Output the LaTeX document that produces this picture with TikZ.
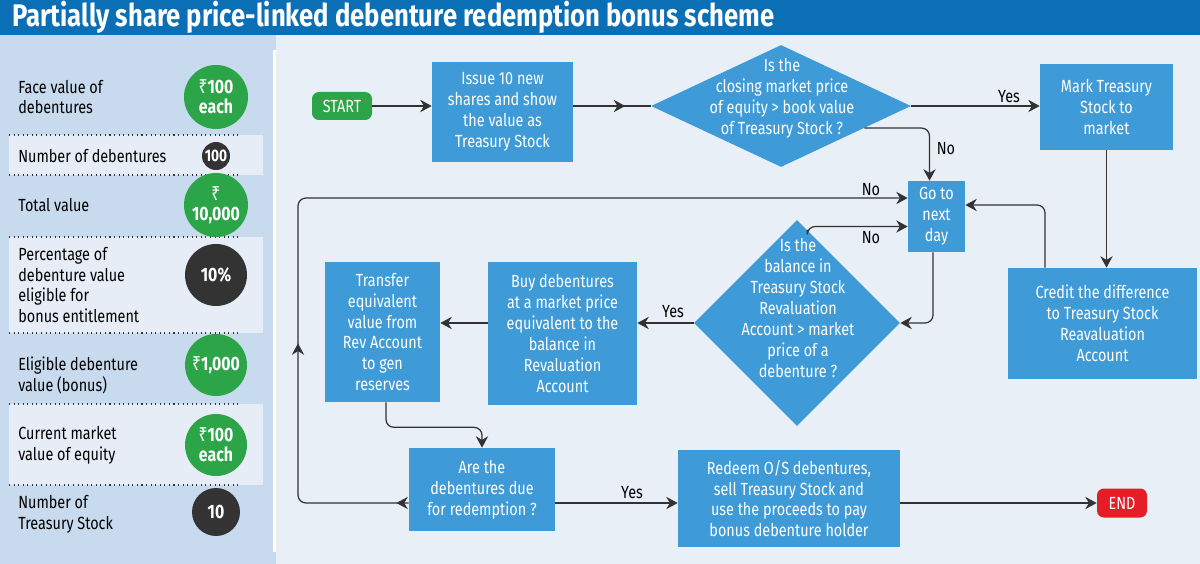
\documentclass[tikz,border=0pt]{standalone}
\usepackage{fontspec}
\setmainfont{Fira Sans}[FakeStretch=0.82]
\newfontfamily\rupeefont{Noto Sans}[FakeStretch=0.82]
\usetikzlibrary{shapes.geometric,arrows.meta,decorations.markings,calc}

\newlength\pxu
\setlength{\pxu}{0.02cm}
\newcommand{\boxfont}{\fontsize{10}{11.9}\selectfont}
\newcommand{\rupeesign}{{\rupeefont\bfseries ₹}}

\definecolor{titleblue}{RGB}{11,111,181}
\definecolor{panelblue}{RGB}{200,218,238}
\definecolor{bandblue}{RGB}{230,237,247}
\definecolor{flowbg}{RGB}{233,239,247}
\definecolor{boxblue}{RGB}{62,155,215}
\definecolor{greenc}{RGB}{44,165,73}
\definecolor{darkc}{RGB}{51,51,51}
\definecolor{endred}{RGB}{228,30,38}
\definecolor{linecol}{RGB}{50,50,50}

\begin{document}
\begin{tikzpicture}[x=0.02cm, y=-0.02cm,
    >={Stealth[length=6.5pt,width=7pt]},
    conn/.style={draw=linecol, line width=0.7pt, rounded corners=4.5pt},
    dims/.style 2 args={minimum width=#1\pxu, minimum height=#2\pxu},
    process/.style={rectangle, fill=boxblue, text=white, align=center, inner sep=0pt, font=\boxfont},
    decision/.style={diamond, fill=boxblue, inner sep=0pt},
    dtext/.style={text=white, align=center, font=\boxfont},
    pill/.style={rectangle, rounded corners=3.9pt, text=white, inner sep=0pt, font=\boxfont},
    lbl/.style={text=black, font=\boxfont},
    rowlbl/.style={anchor=west, align=left, inner sep=0pt, font=\boxfont},
    numc/.style={circle, inner sep=0pt, text=white, align=center, font=\bfseries\fontsize{11}{11.5}\selectfont},
    midtip/.style={postaction={decorate}, decoration={markings, mark=at position #1 with {\arrow{>}}}}]
    \useasboundingbox (0,0) rectangle (1200,564);
    % backgrounds
    \fill[flowbg] (0,0) rectangle (1200,564);
    \fill[panelblue] (0,35) rectangle (276,564);
    \fill[white] (273,50) rectangle (276,552);
    \fill[titleblue] (0,0) rectangle (1200,35);
    \node[anchor=west, text=white, inner sep=0pt, font=\bfseries\fontsize{17.8}{19}\selectfont] (title) at (12,17) {Partially share price-linked debenture redemption bonus scheme};
    % left panel
    \foreach \a/\b in {135/175, 237/333, 404/485}
        \fill[bandblue] (9,\a) rectangle (263,\b);
    \foreach \y in {135,175,237,333,404,485}
        \draw[darkc, dotted, line width=0.6pt] (9,\y) -- (240,\y);
    \node[rowlbl] at (18,97) (r1) {Face value of\\debentures};
    \node[rowlbl] at (18,156) (r2) {Number of debentures};
    \node[rowlbl] at (18,205) (r3) {Total value};
    \node[rowlbl] at (18,285) (r4) {Percentage of\\debenture value\\eligible for\\bonus entitlement};
    \node[rowlbl] at (18,375) (r5) {Eligible debenture\\value (bonus)};
    \node[rowlbl] at (18,445) (r6) {Current market\\value of equity};
    \node[rowlbl] at (18,514) (r7) {Number of\\Treasury Stock};
    \node[numc, fill=greenc, minimum size=64\pxu] at (216,97) (c1) {\rupeesign100\\each};
    \node[numc, fill=darkc, minimum size=28\pxu, font=\bfseries\fontsize{9.5}{10}\selectfont] at (216,156) (c2) {100};
    \node[numc, fill=greenc, minimum size=64\pxu] at (216,205) (c3) {\rupeesign\\10,000};
    \node[numc, fill=darkc, minimum size=62\pxu] at (216,275) (c4) {10\%};
    \node[numc, fill=greenc, minimum size=62\pxu] at (216,365) (c5) {\rupeesign1,000};
    \node[numc, fill=greenc, minimum size=62\pxu] at (216,445) (c6) {\rupeesign100\\each};
    \node[numc, fill=darkc, minimum size=48\pxu] at (216,512) (c7) {10};
    % flow chart
    \node[pill, fill=greenc, dims={60}{28}] at (342,106) (start) {START};
    \node[process, dims={141}{100}] at (502.5,112) (issue) {Issue 10 new\\shares and show\\the value as\\Treasury Stock};
    \node[decision, dims={260}{122}] at (781,106) (d1) {};
    \node[dtext] at (782,98) (d1t) {Is the\\closing market price\\of equity > book value\\of Treasury Stock ?};
    \node[process, dims={133}{86}] at (1106.5,107) (mark) {Mark Treasury\\Stock to\\market};
    \node[process, dims={57}{71}] at (936.5,216.5) (go) {Go to\\next\\day};
    \node[process, dims={189}{111}] at (1102.5,323.5) (credit) {Credit the difference\\to Treasury Stock\\Reavaluation\\Account};
    \node[decision, dims={206}{206}] at (797,323) (d2) {};
    \node[dtext] at (798,308) (d2t) {Is the\\balance in\\Treasury Stock\\Revaluation\\Account > market\\price of a\\debenture ?};
    \node[process, dims={149}{143}] at (562.5,333.5) (buy) {Buy debentures\\at a market price\\equivalent to the\\balance in\\Revaluation\\Account};
    \node[process, dims={115}{140}] at (382.5,332) (transfer) {Transfer\\equivalent\\value from\\Rev Account\\to gen\\reserves};
    \node[process, dims={146}{83}] at (482,489.5) (due) {Are the\\debentures due\\for redemption ?};
    \node[process, dims={222}{97}] at (789,498.5) (redeem) {Redeem O/S debentures,\\sell Treasury Stock and\\use the proceeds to pay\\bonus debenture holder};
    \node[pill, fill=endred, dims={50}{29}] at (1122,503) (endn) {END};
    \coordinate (lp) at (298,350);
    % connectors
    \draw[conn, ->] (start) -- (start -| issue.west);
    \draw[conn, midtip=0.67] (issue.east |- d1) -- (d1.west);
    \draw[conn, ->] (d1.east) -- (mark.west |- d1.east);
    \draw[conn, ->] ($(d1.east)!0.36!(d1.south)$) -| ([xshift=-7\pxu]go.north);
    \draw[conn, ->] (mark.south) -- (mark.south |- credit.north);
    \draw[conn, ->] ([xshift=-57.5\pxu]credit.north) |- ([yshift=11.5\pxu]go.east);
    \draw[conn, ->] ([xshift=-3.5\pxu]go.south) |- (d2.east);
    \draw[conn, ->] ($(d2.north)!0.1!(d2.east)$) |- ([yshift=-10\pxu]go.west);
    \draw[conn, ->] (d2.west) -- (buy.east |- d2.west);
    \draw[conn, ->] (buy.west |- d2.west) -- (transfer.east |- d2.west);
    \draw[conn, ->] ([xshift=3.5\pxu]transfer.south) -- ++(0,25) -| (due.north);
    \draw[conn, ->] (due.east |- endn) -- (redeem.west |- endn);
    \draw[conn, ->] (redeem.east |- endn) -- (endn.west);
    \draw[conn, ->, midtip=0.012, decoration={markings, mark=at position 0.262 with {\arrow{>}}}] (due.west |- endn) -| (lp) |- ([yshift=18.5\pxu]go.west);
    % labels
    \node[lbl] at (1009,97) (yes1) {Yes};
    \node[lbl] at (946,149) (no1) {No};
    \node[lbl] at (871,190) (no2) {No};
    \node[lbl] at (871,238) (no3) {No};
    \node[lbl] at (673,312) (yes2) {Yes};
    \node[lbl] at (632,493) (yes3) {Yes};
\end{tikzpicture}
\end{document}
